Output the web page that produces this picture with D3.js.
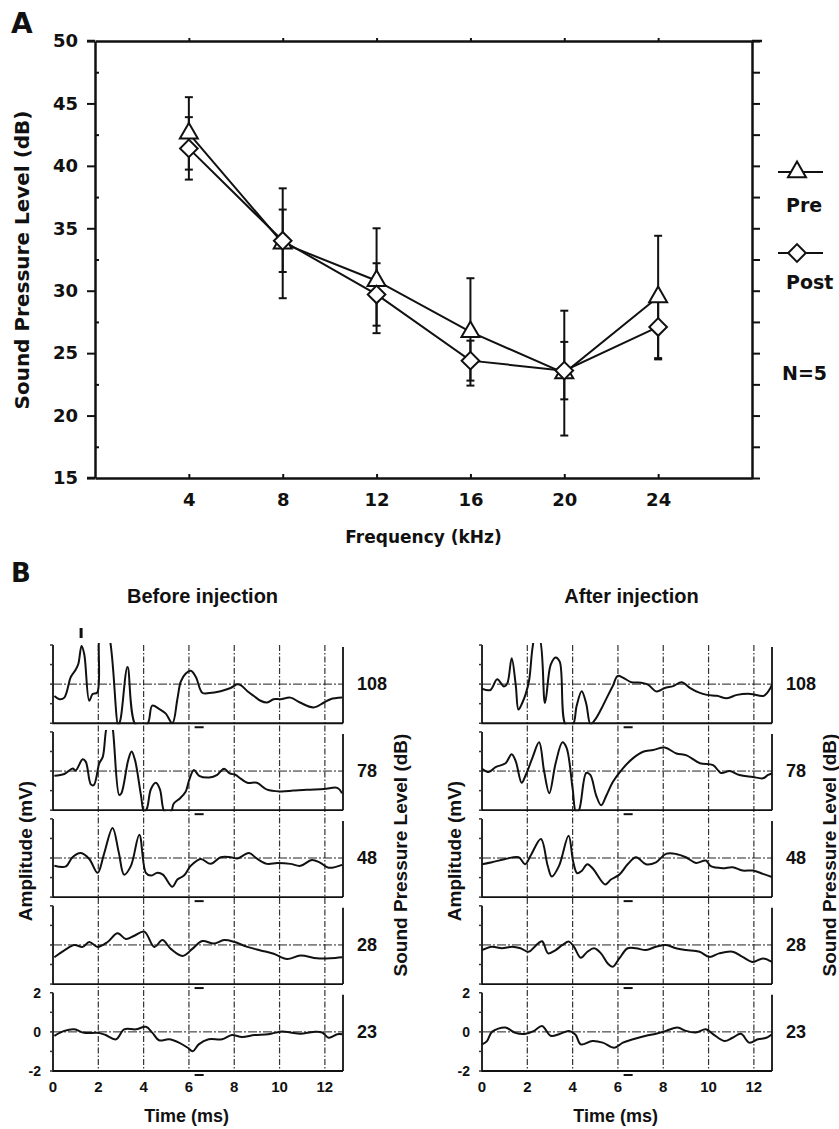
<!DOCTYPE html>
<html lang="en">
<head>
<meta charset="utf-8">
<title>ABR thresholds</title>
<script src="https://d3js.org/d3.v7.min.js"></script>
<style>
  body { margin: 0; background: #fff; }
  text { font-weight: bold; fill: #111; }
  .fa { font-family: "DejaVu Sans", sans-serif; }
  .fb { font-family: "Liberation Sans", Arial, sans-serif; }
</style>
</head>
<body>
<svg width="839" height="1129"></svg>
<script>
// panel A: thresholds (dB SPL) per frequency
var freqs = [4, 8, 12, 16, 20, 24];
var preMean = [42.6, 33.8, 30.8, 26.7, 23.4, 29.5];
var preErr = [2.9, 4.4, 4.2, 4.3, 5.0, 4.9];
var postMean = [41.4, 34.0, 29.7, 24.4, 23.6, 27.1];
var postErr = [2.5, 2.5, 2.5, 1.6, 2.3, 2.6];
var yTicksA = [15, 20, 25, 30, 35, 40, 45, 50];

// panel B: ABR traces, [time ms, amplitude mV]
var levels = [108, 78, 48, 28, 23];
var pre108 = [[0.06,-0.61],[0.28,-0.77],[0.5,-0.69],[0.79,0.38],[1.0,0.73],[1.12,1.04],[1.26,1.95],[1.38,1.53],[1.6,-0.85],[1.75,-0.51],[1.95,-0.44],[2.05,2.6],[2.2,3.0],[2.45,2.6],[2.88,-2.1],[2.98,-1.8],[3.29,0.87],[3.66,-2.1],[4.16,-2.05],[4.38,-1.1],[4.68,-1.26],[4.98,-1.51],[5.27,-2.0],[5.49,-0.76],[5.64,0.13],[5.86,0.54],[6.08,0.68],[6.3,0.38],[6.59,-0.44],[6.9,-0.46],[7.4,-0.36],[7.84,-0.2],[8.13,-0.01],[8.3,-0.06],[8.58,-0.36],[8.87,-0.61],[9.16,-0.85],[9.45,-0.94],[9.74,-0.77],[10.04,-0.77],[10.48,-0.69],[10.9,-0.94],[11.5,-1.19],[11.96,-0.94],[12.25,-0.77],[12.76,-0.69]];
var pre78 = [[0.06,-0.24],[0.5,-0.15],[0.87,0.13],[1.0,0.03],[1.31,0.6],[1.45,0.47],[1.67,-0.68],[1.8,-0.72],[2.04,0.38],[2.2,0.74],[2.38,2.3],[2.55,2.6],[2.92,-1.22],[3.02,-1.13],[3.32,0.56],[3.47,1.0],[3.62,0.56],[3.88,-1.22],[4.02,-2.1],[4.15,-1.9],[4.32,-0.93],[4.54,-0.6],[4.72,-0.93],[4.93,-2.1],[5.2,-2.1],[5.33,-1.66],[5.6,-1.4],[5.86,-1.04],[6.0,-0.5],[6.22,0.06],[6.45,-0.24],[6.9,-0.33],[7.25,-0.19],[7.55,0.12],[7.8,-0.12],[8.05,-0.19],[8.3,-0.4],[8.58,-0.6],[9.0,-0.6],[9.45,-0.95],[10.04,-1.04],[10.6,-1.0],[11.2,-0.95],[11.96,-0.92],[12.55,-0.86],[12.76,-1.13]];
var pre48 = [[0.06,-0.4],[0.57,-0.43],[0.86,0.04],[1.23,0.25],[1.6,-0.05],[1.97,-0.76],[2.25,0.2],[2.63,1.54],[2.9,0.3],[3.14,-0.85],[3.44,-0.4],[3.81,1.19],[4.1,-0.76],[4.32,-0.9],[4.61,-0.76],[4.85,-0.85],[5.27,-1.47],[5.49,-1.1],[5.78,-0.9],[6.08,-0.4],[6.52,-0.05],[6.96,-0.3],[7.4,0.04],[7.84,0.04],[8.14,-0.02],[8.65,0.25],[9.02,-0.05],[9.45,-0.3],[9.9,-0.26],[10.48,-0.3],[10.92,-0.4],[11.43,-0.1],[11.8,-0.25],[12.17,-0.5],[12.76,-0.35]];
var pre28 = [[0.06,-0.63],[0.5,-0.28],[0.94,0.0],[1.31,-0.1],[1.6,0.15],[1.97,-0.1],[2.41,0.15],[2.85,0.6],[3.22,0.3],[3.59,0.47],[4.03,0.68],[4.47,-0.1],[4.83,0.25],[5.2,-0.2],[5.72,-0.56],[6.15,-0.2],[6.59,0.2],[7.1,0.07],[7.55,0.25],[7.99,0.16],[8.58,-0.1],[9.16,-0.28],[9.74,-0.45],[10.33,-0.72],[10.92,-0.54],[11.65,-0.68],[12.25,-0.68],[12.76,-0.63]];
var pre23 = [[0.06,-0.2],[0.5,0.05],[0.94,0.13],[1.38,-0.05],[1.97,-0.05],[2.3,-0.15],[2.78,-0.38],[3.14,0.13],[3.66,0.13],[4.1,0.26],[4.39,-0.05],[4.68,-0.43],[5.12,-0.38],[5.56,-0.55],[5.93,-0.8],[6.17,-0.99],[6.43,-0.64],[6.87,-0.38],[7.46,-0.38],[7.9,-0.16],[8.34,-0.26],[8.9,-0.16],[9.5,-0.12],[10.1,0.02],[10.48,-0.03],[10.92,-0.1],[11.5,0.0],[11.88,-0.03],[12.17,-0.3],[12.55,-0.12],[12.76,-0.12]];
var post108 = [[0,-0.23],[0.37,-0.3],[0.67,0.25],[0.97,-0.12],[1.12,0.05],[1.31,1.32],[1.49,-0.05],[1.61,-1.3],[1.78,-0.95],[1.93,-0.5],[2.08,0.2],[2.23,1.85],[2.34,2.4],[2.52,2.4],[2.78,-0.96],[3.03,0.98],[3.25,1.36],[3.43,1.15],[3.7,-2.1],[4.0,-2.1],[4.18,-1.1],[4.4,-0.37],[4.6,-1.0],[4.79,-2.05],[5.0,-1.8],[5.25,-1.3],[5.55,-0.6],[5.77,-0.1],[5.99,0.42],[6.22,0.33],[6.59,0.1],[7.03,0.07],[7.33,-0.03],[7.7,-0.38],[8.07,-0.2],[8.44,-0.1],[8.81,0.1],[9.19,-0.2],[9.56,-0.42],[9.93,-0.55],[10.37,-0.6],[10.81,-0.72],[11.26,-0.55],[11.85,-0.5],[12.44,-0.6],[12.73,-0.2],[12.85,0.15]];
var post78 = [[0,0.12],[0.3,-0.05],[0.6,0.2],[1.04,0.4],[1.31,0.86],[1.49,0.5],[1.75,-0.6],[1.93,-0.2],[2.23,0.69],[2.52,1.47],[2.74,0.0],[2.97,-1.13],[3.25,0.4],[3.55,1.47],[3.73,1.2],[4.0,-0.9],[4.15,-2.1],[4.28,-2.0],[4.6,-0.1],[4.78,-0.2],[5.04,-1.25],[5.26,-1.75],[5.49,-1.25],[5.78,-0.55],[6.22,0.14],[6.67,0.66],[7.11,0.99],[7.55,1.08],[8.07,1.2],[8.58,0.9],[9.03,0.8],[9.62,0.4],[10.2,0.3],[10.55,-0.1],[10.93,0.0],[11.36,-0.2],[11.95,-0.3],[12.4,-0.37],[12.63,-0.2],[12.85,-0.1]];
var post48 = [[0,-0.32],[0.44,-0.22],[1.03,-0.05],[1.62,0.04],[1.9,-0.32],[2.15,0.13],[2.6,0.97],[2.9,-0.4],[3.08,-0.95],[3.4,-0.4],[3.82,1.14],[4.03,-0.22],[4.2,-0.78],[4.4,-0.66],[4.65,-0.32],[4.9,-0.55],[5.44,-1.35],[5.69,-1.1],[6.06,-0.85],[6.43,-0.32],[6.8,0.04],[7.24,-0.32],[7.68,-0.22],[8.12,0.21],[8.56,0.21],[9.0,0.04],[9.44,-0.25],[9.88,-0.13],[10.1,-0.42],[10.62,-0.52],[11.06,-0.47],[11.5,-0.64],[11.95,-0.64],[12.4,-0.81],[12.8,-0.98]];
var post28 = [[0,-0.26],[0.44,-0.09],[0.88,-0.17],[1.33,-0.09],[1.7,-0.17],[2.06,-0.35],[2.36,-0.05],[2.65,0.19],[2.92,-0.43],[3.25,-0.26],[3.55,0.0],[3.84,0.17],[4.06,-0.1],[4.36,-0.66],[4.65,-0.35],[4.95,-0.17],[5.25,-0.43],[5.55,-0.95],[5.77,-1.12],[6.06,-0.69],[6.43,-0.17],[6.8,-0.17],[7.24,-0.26],[7.68,-0.09],[8.12,0.0],[8.56,-0.17],[9.0,-0.26],[9.6,-0.35],[10.04,-0.61],[10.47,-0.43],[11.06,-0.35],[11.5,-0.61],[11.95,-0.87],[12.4,-0.69],[12.8,-0.87]];
var post23 = [[0,-0.64],[0.22,-0.47],[0.44,0.0],[1.03,0.22],[1.47,-0.05],[1.93,-0.1],[2.3,0.05],[2.65,0.3],[3.03,-0.2],[3.4,-0.12],[3.84,0.05],[4.13,-0.15],[4.36,-0.64],[4.87,-0.47],[5.33,-0.55],[5.84,-0.81],[6.22,-0.55],[6.67,-0.38],[7.24,-0.2],[7.68,-0.1],[8.12,0.05],[8.63,0.22],[9.0,0.05],[9.44,-0.03],[9.88,0.13],[10.18,-0.1],[10.7,-0.47],[11.06,-0.3],[11.43,-0.1],[11.8,-0.55],[12.18,-0.38],[12.55,-0.3],[12.8,-0.12]];
var timeTicks = [0, 2, 4, 6, 8, 10, 12];
var ampTicks = [-2, -1, 0, 1, 2];
var ampLabels = [-2, 0, 2];

var svg = d3.select("svg");

// ---------- panel A ----------
var x = d3.scaleLinear().domain([0, 28]).range([95, 752]);
var y = d3.scaleLinear().domain([15, 50]).range([478, 41]);
var minorY = d3.range(17.5, 50, 5);
var allY = d3.range(15, 50.1, 2.5);

var gA = svg.append("g");

function styleAxis(g, w) {
    g.select(".domain").attr("stroke", "#111").attr("stroke-width", w);
    g.selectAll(".tick line").attr("stroke", "#111").attr("stroke-width", 2);
}

// left axis, major ticks outward, labels
gA.append("g")
    .attr("transform", "translate(95,0)")
    .call(d3.axisLeft(y).tickValues(yTicksA).tickSizeInner(8).tickSizeOuter(0).tickPadding(9))
    .call(function (g) { styleAxis(g, 2.5); })
    .call(function (g) {
        g.selectAll("text").attr("class", "fa").style("font-size", "18px").attr("fill", "#111");
    });
// left minor ticks inward
gA.append("g").attr("transform", "translate(95,0)")
    .call(d3.axisRight(y).tickValues(minorY).tickSize(4).tickFormat(""))
    .call(function (g) { g.select(".domain").remove(); styleAxis(g, 0); });
// right axis
gA.append("g")
    .attr("transform", "translate(752,0)")
    .call(d3.axisRight(y).tickValues(allY).tickSize(8).tickSizeOuter(0).tickFormat(""))
    .call(function (g) { styleAxis(g, 2.5); });
// top axis
gA.append("g")
    .attr("transform", "translate(0,41)")
    .call(d3.axisTop(x).tickValues(freqs).tickSize(3).tickSizeOuter(0).tickFormat(""))
    .call(function (g) { styleAxis(g, 2.5); });
// bottom axis
gA.append("g")
    .attr("transform", "translate(0,478)")
    .call(d3.axisBottom(x).tickValues(freqs).tickSizeInner(-4).tickSizeOuter(0).tickPadding(0))
    .call(function (g) {
        styleAxis(g, 2.5);
        g.selectAll("text").attr("class", "fa").style("font-size", "18px")
            .attr("y", 28).attr("dy", 0).attr("fill", "#111");
    });
// extend corners like the original frame
gA.append("path")
    .attr("d", "M87," + y(50) + "H95M752," + y(50) + "H762M87," + y(15) + "H95")
    .attr("stroke", "#111").attr("stroke-width", 2.5);

gA.append("text").attr("class", "fa")
    .attr("transform", "translate(" + 29 + "," + 260 + ") rotate(-90)")
    .attr("text-anchor", "middle").style("font-size", "20px")
    .text("Sound Pressure Level (dB)");
gA.append("text").attr("class", "fa")
    .attr("x", x(14)).attr("y", 543).attr("text-anchor", "middle").style("font-size", "17px")
    .text("Frequency (kHz)");
gA.append("text").attr("class", "fa").attr("x", 11).attr("y", 33)
    .style("font-size", "28px").text("A");

var preData = freqs.map(function (f, i) { return { f: f, m: preMean[i], e: preErr[i] }; });
var postData = freqs.map(function (f, i) { return { f: f, m: postMean[i], e: postErr[i] }; });

var line = d3.line()
    .x(function (d) { return x(d.f); })
    .y(function (d) { return y(d.m); });

[preData, postData].forEach(function (data) {
    gA.append("path").datum(data).attr("d", line)
        .attr("fill", "none").attr("stroke", "#111").attr("stroke-width", 2);
    var eb = gA.append("g").selectAll("g").data(data).enter().append("g")
        .attr("stroke", "#111").attr("stroke-width", 2);
    eb.append("line")
        .attr("x1", function (d) { return x(d.f); }).attr("x2", function (d) { return x(d.f); })
        .attr("y1", function (d) { return y(d.m + d.e); }).attr("y2", function (d) { return y(d.m - d.e); });
    eb.append("line")
        .attr("x1", function (d) { return x(d.f) - 4; }).attr("x2", function (d) { return x(d.f) + 4; })
        .attr("y1", function (d) { return y(d.m + d.e); }).attr("y2", function (d) { return y(d.m + d.e); });
    eb.append("line")
        .attr("x1", function (d) { return x(d.f) - 4; }).attr("x2", function (d) { return x(d.f) + 4; })
        .attr("y1", function (d) { return y(d.m - d.e); }).attr("y2", function (d) { return y(d.m - d.e); });
});

var triangle = d3.symbol().type(d3.symbolTriangle).size(140);
var diamond = d3.symbol().type(d3.symbolSquare).size(155);

gA.append("g").selectAll("path").data(preData).enter().append("path")
    .attr("d", triangle)
    .attr("transform", function (d) { return "translate(" + x(d.f) + "," + y(d.m) + ")"; })
    .attr("fill", "#fff").attr("stroke", "#111").attr("stroke-width", 2);
gA.append("g").selectAll("path").data(postData).enter().append("path")
    .attr("d", diamond)
    .attr("transform", function (d) { return "translate(" + x(d.f) + "," + y(d.m) + ") rotate(45)"; })
    .attr("fill", "#fff").attr("stroke", "#111").attr("stroke-width", 2);

// legend
var lg = gA.append("g");
lg.append("line").attr("x1", 778).attr("x2", 823).attr("y1", 172).attr("y2", 172)
    .attr("stroke", "#111").attr("stroke-width", 2);
lg.append("path").attr("d", triangle).attr("transform", "translate(797,172)")
    .attr("fill", "#fff").attr("stroke", "#111").attr("stroke-width", 2);
lg.append("text").attr("class", "fa").attr("x", 786).attr("y", 212).style("font-size", "19px").text("Pre");
lg.append("line").attr("x1", 778).attr("x2", 823).attr("y1", 253).attr("y2", 253)
    .attr("stroke", "#111").attr("stroke-width", 2);
lg.append("path").attr("d", diamond).attr("transform", "translate(797,253) rotate(45)")
    .attr("fill", "#fff").attr("stroke", "#111").attr("stroke-width", 2);
lg.append("text").attr("class", "fa").attr("x", 786).attr("y", 289).style("font-size", "19px").text("Post");
lg.append("text").attr("class", "fa").attr("x", 782).attr("y", 380).style("font-size", "19px").text("N=5");

// ---------- panel B ----------
svg.append("text").attr("class", "fa").attr("x", 11).attr("y", 582)
    .style("font-size", "26px").text("B");

var rowY = d3.scaleBand().domain(levels).range([645, 1071]).paddingInner(0.1);

function drawPanel(id, x0, x1, traces, title) {
    var xs = d3.scaleLinear().domain([0, 12.8]).range([x0, x1]);
    var g = svg.append("g");
    var top = rowY(levels[0]), bottom = rowY(levels[4]) + rowY.bandwidth();

    g.append("text").attr("class", "fb").attr("x", xs(6.6)).attr("y", 603)
        .attr("text-anchor", "middle").style("font-size", "20px").text(title);

    // dash-dot time grid
    g.selectAll(".vgrid").data(timeTicks.slice(1)).enter().append("line")
        .attr("x1", function (d) { return xs(d); }).attr("x2", function (d) { return xs(d); })
        .attr("y1", top).attr("y2", bottom)
        .attr("stroke", "#333").attr("stroke-width", 1.2).attr("stroke-dasharray", "6,2,1.5,2");

    levels.forEach(function (lev, i) {
        var t0 = rowY(lev), t1 = t0 + rowY.bandwidth();
        var ys = d3.scaleLinear().domain([-2, 2]).range([t1, t0]);
        var cid = id + "clip" + i;
        g.append("clipPath").attr("id", cid).append("rect")
            .attr("x", x0).attr("y", t0 - 2).attr("width", x1 - x0).attr("height", t1 - t0 + 3);

        // zero line
        g.append("line").attr("x1", x0).attr("x2", x1).attr("y1", ys(0)).attr("y2", ys(0))
            .attr("stroke", "#222").attr("stroke-width", 1).attr("stroke-dasharray", "9,2,2,2");
        // frame: left, right, bottom
        g.append("path")
            .attr("d", "M" + x0 + "," + t0 + "V" + t1 + "H" + x1 + "M" + x1 + "," + (t0 + 2) + "V" + t1)
            .attr("fill", "none").attr("stroke", "#111").attr("stroke-width", 1.8);
        g.selectAll(null).data(ampTicks).enter().append("line")
            .attr("x1", x0 - 3).attr("x2", x0)
            .attr("y1", function (d) { return ys(d); }).attr("y2", function (d) { return ys(d); })
            .attr("stroke", "#333").attr("stroke-width", 1.5);
        // small marker under each row
        g.append("line").attr("x1", xs(6.25)).attr("x2", xs(6.65))
            .attr("y1", t1 + 4).attr("y2", t1 + 4).attr("stroke", "#111").attr("stroke-width", 2);

        var ln = d3.line()
            .x(function (d) { return xs(d[0]); })
            .y(function (d) { return ys(d[1]); })
            .curve(d3.curveCatmullRom.alpha(0.5));
        g.append("path").datum(traces[i]).attr("d", ln)
            .attr("clip-path", "url(#" + cid + ")")
            .attr("fill", "none").attr("stroke", "#111").attr("stroke-width", 2)
            .attr("stroke-linejoin", "round");

        g.append("text").attr("class", "fb").attr("x", x1 + 14).attr("y", ys(0) + 6)
            .style("font-size", "18px").text(lev);

        if (i === levels.length - 1) {
            g.selectAll(null).data(ampLabels).enter().append("text")
                .attr("class", "fb").attr("x", x0 - 12).attr("y", function (d) { return ys(d) + 5; })
                .attr("text-anchor", "end").style("font-size", "14px")
                .text(function (d) { return d; });
        }
    });

    g.selectAll(".tl").data(timeTicks).enter().append("text")
        .attr("class", "fb").attr("x", function (d) { return xs(d); }).attr("y", 1092)
        .attr("text-anchor", "middle").style("font-size", "15px")
        .text(function (d) { return d; });
    g.append("text").attr("class", "fb").attr("x", xs(5.9)).attr("y", 1122)
        .attr("text-anchor", "middle").style("font-size", "18px").text("Time (ms)");

    g.append("text").attr("class", "fb")
        .attr("transform", "translate(" + (x0 - 21) + ",851) rotate(-90)")
        .attr("text-anchor", "middle").style("font-size", "19px").text("Amplitude (mV)");
    g.append("text").attr("class", "fb")
        .attr("transform", "translate(" + (x1 + 64) + ",855) rotate(-90)")
        .attr("text-anchor", "middle").style("font-size", "19px").text("Sound Pressure Level (dB)");
    return xs;
}

var xsL = drawPanel("pre", 53, 343, [pre108, pre78, pre48, pre28, pre23], "Before injection");
drawPanel("post", 482, 772, [post108, post78, post48, post28, post23], "After injection");

// wave I marker above the first trace
svg.append("line").attr("x1", xsL(1.24)).attr("x2", xsL(1.24)).attr("y1", 628).attr("y2", 638)
    .attr("stroke", "#111").attr("stroke-width", 3);
</script>
</body>
</html>
